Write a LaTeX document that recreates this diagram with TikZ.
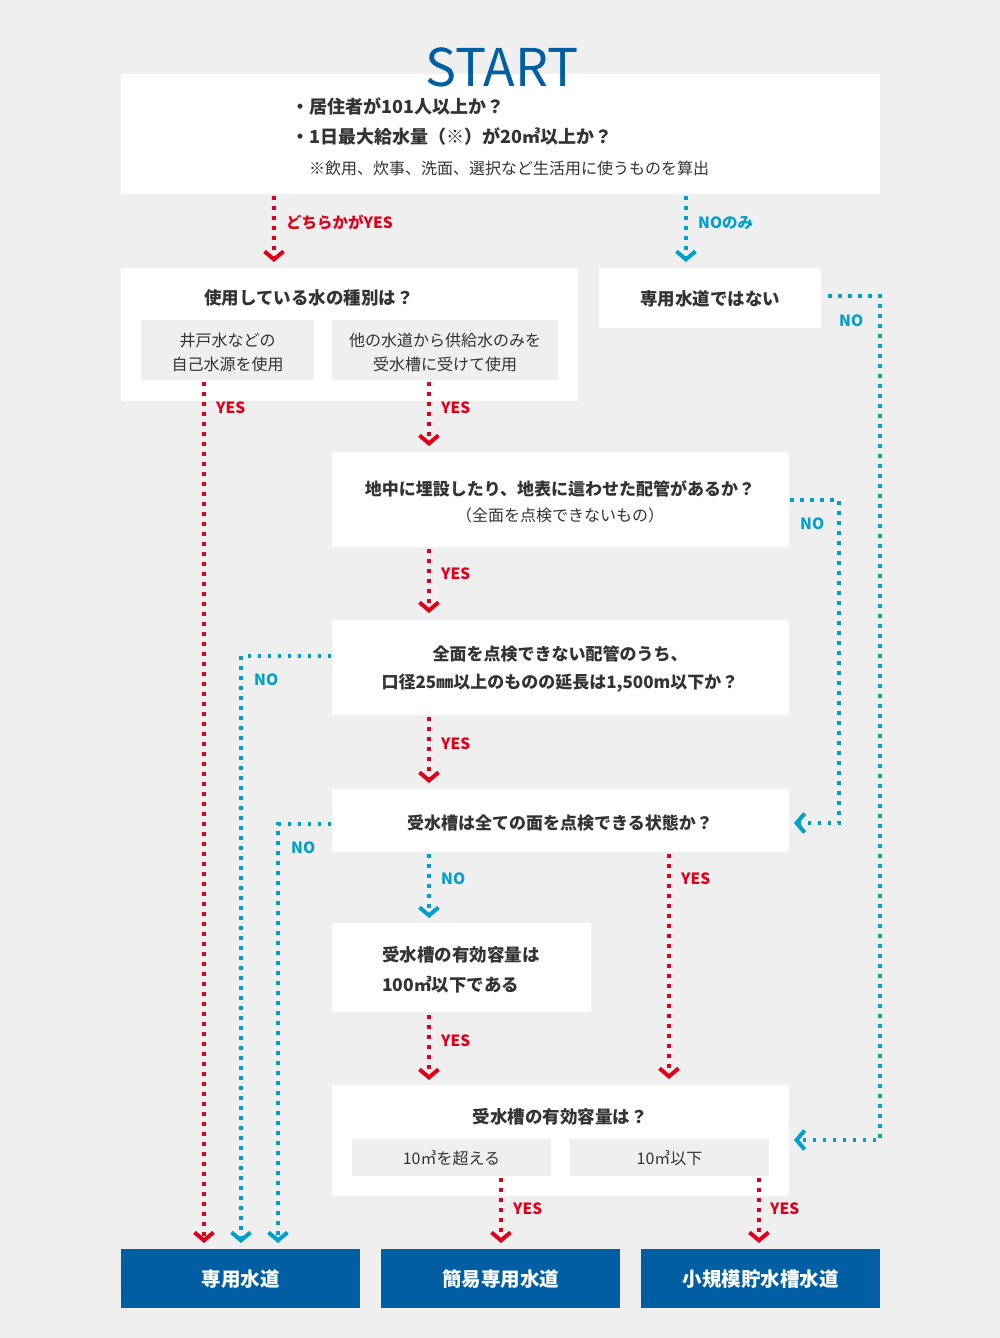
\documentclass[tikz,border=0pt]{standalone}
\usepackage{fontspec}
\setmainfont{Noto Sans CJK JP}
\usetikzlibrary{arrows.meta}
\definecolor{bgc}{HTML}{EFEFEF}
\definecolor{txtc}{HTML}{333333}
\definecolor{redc}{HTML}{E00019}
\definecolor{cyanc}{HTML}{00A0CC}
\definecolor{navyc}{HTML}{005EA2}
\tikzset{
  wbox/.style={fill=white, draw=none, anchor=north west, inner sep=0pt},
  gbox/.style={fill=bgc, draw=none, anchor=north west, inner sep=0pt},
  fbox/.style={fill=navyc, draw=none, anchor=north west, inner sep=0pt},
  jt/.style={text=txtc, inner sep=0pt, text height=0.88em, text depth=0.12em, yshift=-3.5pt},
  bt/.style={jt, font=\fontsize{17}{24}\selectfont\bfseries},
  rt/.style={jt, font=\fontsize{16}{24}\selectfont},
  ft/.style={inner sep=0pt, text=white, text height=0.88em, text depth=0.12em, yshift=-4pt, font=\fontsize{19.5}{24}\selectfont\bfseries},
  lblr/.style={anchor=west, inner sep=0pt, text=redc, text height=0.73em, text depth=0pt, yshift=-3pt, font=\fontsize{15.5}{18}\selectfont\bfseries},
  lblc/.style={lblr, text=cyanc},
  chev/.style={-{Straight Barb[length=8pt,width=19pt,line width=4pt]}},
  redln/.style={draw=redc, line width=3.5pt, dash pattern=on 3.5pt off 6.5pt, chev},
  cyanln/.style={draw=cyanc, line width=3.5pt, dash pattern=on 3.5pt off 6.5pt, chev},
}
\begin{document}
\begin{tikzpicture}[x=1pt,y=-1pt]
\fill[bgc] (0,0) rectangle (1000,1338);
\useasboundingbox (0,0) rectangle (1000,1338);

% boxes
\node[wbox, minimum width=759pt, minimum height=120pt] (start) at (121,74) {};
\node[wbox, minimum width=457pt, minimum height=133pt] (kind) at (121,268) {};
\node[gbox, minimum width=173pt, minimum height=60pt] (kinda) at (141,320) {};
\node[gbox, minimum width=226pt, minimum height=60pt] (kindb) at (332,320) {};
\node[wbox, minimum width=222pt, minimum height=60pt] (notsen) at (599,268) {};
\node[wbox, minimum width=457pt, minimum height=95pt] (pipe) at (332,452) {};
\node[wbox, minimum width=457pt, minimum height=95pt] (len) at (332,620) {};
\node[wbox, minimum width=457pt, minimum height=63pt] (tank) at (332,789) {};
\node[wbox, minimum width=259pt, minimum height=89pt] (hund) at (332,923) {};
\node[wbox, minimum width=457pt, minimum height=111pt] (cap) at (332,1085) {};
\node[gbox, minimum width=199pt, minimum height=37pt] (capa) at (352,1139) {};
\node[gbox, minimum width=199pt, minimum height=37pt] (capb) at (570,1139) {};
\node[fbox, minimum width=239pt, minimum height=59pt] (fin1) at (121,1249) {};
\node[fbox, minimum width=239pt, minimum height=59pt] (fin2) at (381,1249) {};
\node[fbox, minimum width=239pt, minimum height=59pt] (fin3) at (641,1249) {};

% texts
\node[anchor=base, inner sep=0pt, text=navyc, font=\fontsize{52}{60}\selectfont] (starttxt) at (502,86) {START};
\node[bt, anchor=west, font=\fontsize{18}{24}\selectfont\bfseries] (q1) at (291,106) {・居住者が101人以上か？};
\node[bt, anchor=west, font=\fontsize{18}{24}\selectfont\bfseries] (q2) at (291,136) {・1日最大給水量（※）が20㎥以上か？};
\node[rt, anchor=west] (q3) at (309,167) {※飲用、炊事、洗面、選択など生活用に使うものを算出};

\node[bt, font=\fontsize{17.5}{24}\selectfont\bfseries] (kindt) at (309,297) {使用している水の種別は？};
\node[rt] (kindat1) at (227.5,339) {井戸水などの};
\node[rt] (kindat2) at (227.5,363) {自己水源を使用};
\node[rt] (kindbt1) at (445,339) {他の水道から供給水のみを};
\node[rt] (kindbt2) at (445,363) {受水槽に受けて使用};
\node[bt, font=\fontsize{17.5}{24}\selectfont\bfseries] (notsent) at (710,298) {専用水道ではない};
\node[bt] (pipet1) at (560,488) {地中に埋設したり、地表に這わせた配管があるか？};
\node[rt] (pipet2) at (560,514) {（全面を点検できないもの）};
\node[bt] (lent1) at (560,653) {全面を点検できない配管のうち、};
\node[bt] (lent2) at (560,681) {口径25㎜以上のものの延長は1,500m以下か？};
\node[bt] (tankt) at (560,822) {受水槽は全ての面を点検できる状態か？};
\node[bt, anchor=west, font=\fontsize{17.5}{24}\selectfont\bfseries] (hundt1) at (382,954) {受水槽の有効容量は};
\node[bt, anchor=west, font=\fontsize{17.5}{24}\selectfont\bfseries] (hundt2) at (382,984) {100㎥以下である};
\node[bt, font=\fontsize{17.5}{24}\selectfont\bfseries] (capt) at (560,1116) {受水槽の有効容量は？};
\node[rt] (capat) at (451.5,1157.5) {10㎥を超える};
\node[rt] (capbt) at (669.5,1157.5) {10㎥以下};
\node[ft] (fin1t) at (240.5,1279) {専用水道};
\node[ft] (fin2t) at (500.5,1279) {簡易専用水道};
\node[ft] (fin3t) at (760.5,1279) {小規模貯水槽水道};

% connector coordinates
\coordinate (r1a) at (274,196);  \coordinate (r1b) at (274,262);
\coordinate (r2a) at (204,382);  \coordinate (r2b) at (204,1243);
\coordinate (r3a) at (429,382);  \coordinate (r3b) at (429,446);
\coordinate (r4a) at (429,549);  \coordinate (r4b) at (429,613);
\coordinate (r5a) at (429,717);  \coordinate (r5b) at (429,783);
\coordinate (r6a) at (669,854);  \coordinate (r6b) at (669,1079);
\coordinate (r7a) at (429,1015); \coordinate (r7b) at (429,1080);
\coordinate (r8a) at (501,1178); \coordinate (r8b) at (501,1243);
\coordinate (r9a) at (759,1178); \coordinate (r9b) at (759,1243);
\coordinate (c1a) at (686,196);  \coordinate (c1b) at (686,262);
\coordinate (c2a) at (828,296);  \coordinate (c2b) at (794,1140);
\coordinate (c3a) at (790,500);  \coordinate (c3b) at (794,823);
\coordinate (c4a) at (331,656);  \coordinate (c4b) at (241,1243);
\coordinate (c5a) at (331,824);  \coordinate (c5b) at (278,1243);
\coordinate (c6a) at (429,854);  \coordinate (c6b) at (429,918);

% red connectors
\draw[redln] (r1a) -- (r1b);
\draw[redln] (r2a) -- (r2b);
\draw[redln] (r3a) -- (r3b);
\draw[redln] (r4a) -- (r4b);
\draw[redln] (r5a) -- (r5b);
\draw[redln] (r6a) -- (r6b);
\draw[redln] (r7a) -- (r7b);
\draw[redln] (r8a) -- (r8b);
\draw[redln] (r9a) -- (r9b);
% cyan connectors
\draw[cyanln] (c1a) -- (c1b);
\draw[cyanln] (c2a) -- (880,296) -- (880,1140) -- (c2b);
\draw[cyanln] (c3a) -- (839,500) -- (839,823) -- (c3b);
\draw[cyanln] (c4a) -- (241,656) -- (c4b);
\draw[cyanln] (c5a) -- (278,824) -- (c5b);
\draw[cyanln] (c6a) -- (c6b);

% labels
\node[lblr] (l1) at (286,222) {どちらかがYES};
\node[lblc] (l2) at (698,222) {NOのみ};
\node[lblr] (l3) at (216,407) {YES};
\node[lblr] (l4) at (441,407) {YES};
\node[lblc] (l5) at (839,320) {NO};
\node[lblr] (l6) at (441,573) {YES};
\node[lblc] (l7) at (800,523) {NO};
\node[lblc] (l8) at (254,679) {NO};
\node[lblr] (l9) at (441,743) {YES};
\node[lblc] (l10) at (291,847) {NO};
\node[lblc] (l11) at (441,878) {NO};
\node[lblr] (l12) at (681,878) {YES};
\node[lblr] (l13) at (441,1040) {YES};
\node[lblr] (l14) at (513,1208) {YES};
\node[lblr] (l15) at (770,1208) {YES};
\end{tikzpicture}
\end{document}
